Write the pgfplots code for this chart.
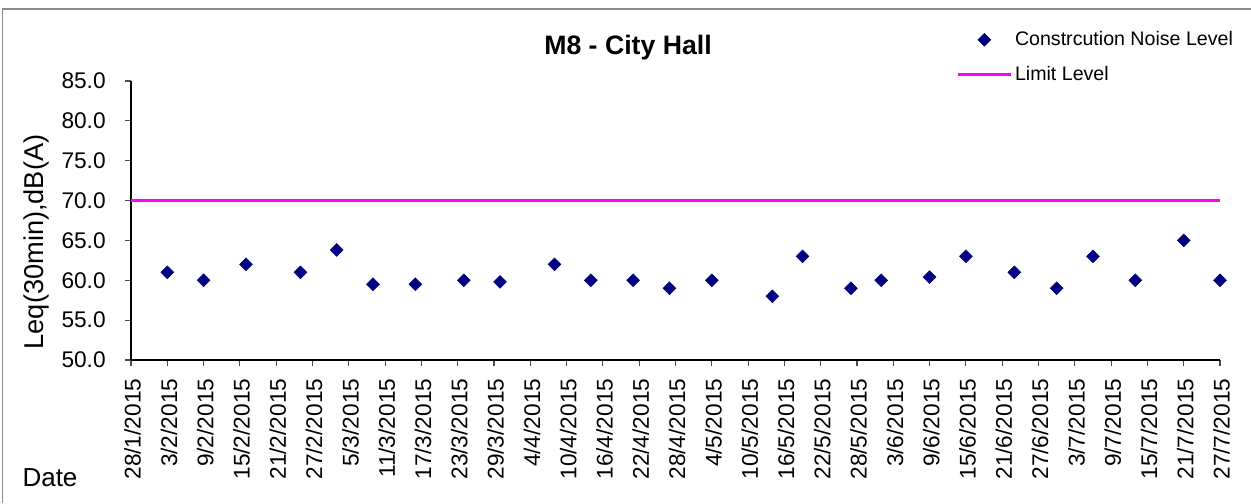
\documentclass[border=0pt]{standalone}
\usepackage{pgfplots}
\pgfplotsset{compat=1.18}
\usepackage{fontspec}
\setmainfont{Liberation Sans}
\definecolor{navy}{RGB}{0,0,128}
\definecolor{limitmag}{RGB}{255,0,255}
\definecolor{framegray}{RGB}{140,140,140}
\pgfplotstableread{
x y
6 61
12 60
19 62
28 61
34 63.8
40 59.5
47 59.5
55 60
61 59.8
70 62
76 60
83 60
89 59
96 60
106 58
111 63
119 59
124 60
132 60.4
138 63
146 61
153 59
159 63
166 60
174 65
180 60
}\noisedata
\begin{document}
\begin{tikzpicture}[x=0.75pt,y=0.75pt]
\useasboundingbox (0,0) rectangle (1251,503);
\fill[white] (0,0) rectangle (1251,503);
\draw[framegray,line width=1pt] (2.5,0) -- (2.5,494) -- (1251,494);
\node[font=\bfseries\fontsize{20}{24}\selectfont] at (628,455) {M8 - City Hall};
\node[rotate=90,font=\fontsize{20.4}{24}\selectfont] at (36,261) {Leq(30min),dB(A)};
\node[font=\fontsize{19.5}{23}\selectfont] at (50,25) {Date};
\begin{axis}[
  at={(98.25pt,107.25pt)}, anchor=south west,
  scale only axis, width=816.75pt, height=209.25pt,
  xmin=0, xmax=180, ymin=50, ymax=85,
  enlargelimits=false, clip=false,
  axis lines=left, axis line style={-, line width=0.9pt},
  tick align=outside, major tick length=4.5pt,
  tick style={line width=0.8pt, black!70},
  xtick={0,6,...,180},
  xticklabels={28/1/2015,3/2/2015,9/2/2015,15/2/2015,21/2/2015,27/2/2015,5/3/2015,11/3/2015,17/3/2015,23/3/2015,29/3/2015,4/4/2015,10/4/2015,16/4/2015,22/4/2015,28/4/2015,4/5/2015,10/5/2015,16/5/2015,22/5/2015,28/5/2015,3/6/2015,9/6/2015,15/6/2015,21/6/2015,27/6/2015,3/7/2015,9/7/2015,15/7/2015,21/7/2015,27/7/2015},
  xticklabel style={rotate=90, anchor=east, xshift=-6pt, yshift=-1.2pt, font=\fontsize{17}{20}\selectfont},
  ytick={50,55,...,85},
  yticklabel style={xshift=-11pt, font=\fontsize{17}{20}\selectfont},
  /pgf/number format/.cd, fixed, fixed zerofill, precision=1, assume math mode=true,
  /pgfplots/.cd,
  legend image code/.code={\draw[mark repeat=2,mark phase=2,#1] plot coordinates {(0pt,0pt) (20pt,0pt) (40pt,0pt)};},
  legend style={draw=none, fill=none, at={(0.754,1.197)}, anchor=north west,
    font=\fontsize{14.7}{17}\selectfont, row sep=9.75pt},
  legend cell align=left,
]
\addplot[only marks, mark=square*, mark size=3.4pt, mark options={rotate=45, fill=navy, draw=navy}] table[x=x,y=y] {\noisedata};
\addlegendentry{Constrcution Noise Level}
\addplot[limitmag, line width=2pt] coordinates {(0,70) (180,70)};
\addlegendentry{Limit Level}
\end{axis}
\end{tikzpicture}
\end{document}
